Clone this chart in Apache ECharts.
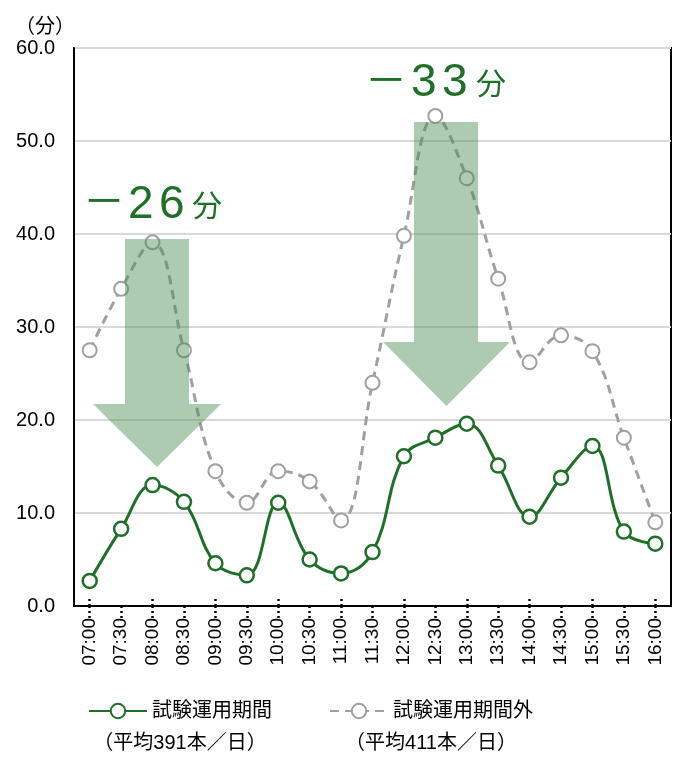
<!DOCTYPE html>
<html><head><meta charset="utf-8">
<script src="https://cdn.jsdelivr.net/npm/echarts@6/dist/echarts.min.js"></script>
<style>html,body{margin:0;padding:0;background:#fff}#c{width:677px;height:757px}</style>
</head><body><div id="c"></div>
<script>
const categories = ['07:00','07:30','08:00','08:30','09:00','09:30','10:00','10:30','11:00','11:30','12:00','12:30','13:00','13:30','14:00','14:30','15:00','15:30','16:00'];
const trialValues = [2.7,8.3,13.0,11.2,4.6,3.3,11.1,5.0,3.5,5.8,16.1,18.1,19.6,15.1,9.6,13.8,17.2,8.0,6.7];
const outsideValues = [27.5,34.1,39.1,27.5,14.5,11.1,14.5,13.4,9.2,24.0,39.8,52.7,46.0,35.2,26.2,29.1,27.4,18.1,9.0];
const seriesNames = ['試験運用期間','試験運用期間外'];
const seriesNotes = ['（平均391本／日）','（平均411本／日）'];
const yTicks = {min:0, max:60, interval:10};

const FONT = "'Liberation Sans', 'Noto Sans CJK JP', sans-serif";
const GREEN = '#1f6f28';
const GRAY = '#a0a0a0';
const ARROW = 'rgba(73,140,82,0.45)';

const chart = echarts.init(document.getElementById('c'), null, {renderer:'canvas'});

function arrow(x1,x2,hx1,hx2,top,headTop,tip){
  const cx=(hx1+hx2)/2;
  return {type:'polygon', z:100, silent:true,
    shape:{points:[[x1,top],[x2,top],[x2,headTop],[hx2,headTop],[cx,tip],[hx1,headTop],[x1,headTop]]},
    style:{fill:ARROW}};
}
function txt(x,y,t,size,align){
  return {type:'text', z:110, x:x, y:y, style:{text:t, fill:GREEN, font:size+'px '+FONT, textAlign:align||'left', textVerticalAlign:'middle'}};
}

chart.setOption({
  animation:false,
  grid:{left:74, top:48, right:6, bottom:151, show:true, borderColor:'#000', borderWidth:2, containLabel:false},
  legend:{
    data:seriesNames, left:83, top:696, itemWidth:58, itemHeight:18, itemGap:57,
    textStyle:{fontSize:20, color:'#000', fontFamily:FONT}
  },
  xAxis:[{
    type:'category', data:categories, boundaryGap:true,
    axisLine:{show:true, lineStyle:{color:'#000', width:2}},
    axisTick:{show:true, alignWithLabel:true, length:12, lineStyle:{color:'#000', width:2.5, type:[2,3]}},
    axisLabel:{rotate:90, margin:12, fontSize:19, color:'#000', fontFamily:FONT, interval:0},
    splitLine:{show:false}
  },{
    type:'category', data:categories, boundaryGap:true, position:'bottom',
    axisLine:{show:false},
    axisTick:{show:true, inside:true, alignWithLabel:true, length:8, lineStyle:{color:'#000', width:2.5, type:[2,3]}},
    axisLabel:{show:false}, splitLine:{show:false}
  }],
  yAxis:{
    type:'value', min:yTicks.min, max:yTicks.max, interval:yTicks.interval,
    axisLine:{show:true, lineStyle:{color:'#000', width:2}},
    axisTick:{show:false},
    axisLabel:{formatter:v=>v.toFixed(1), fontSize:20, color:'#000', fontFamily:FONT, margin:19},
    splitLine:{show:true, lineStyle:{color:'#d9d9d9', width:2}}
  },
  series:[{
    name:seriesNames[1], type:'line', data:outsideValues, smooth:0.4,
    symbol:'circle', symbolSize:14, showAllSymbol:true,
    lineStyle:{color:GRAY, width:3, type:[9,6]},
    itemStyle:{color:'#fff', borderColor:GRAY, borderWidth:2}
  },{
    name:seriesNames[0], type:'line', data:trialValues, smooth:0.4,
    symbol:'circle', symbolSize:14, showAllSymbol:true,
    lineStyle:{color:GREEN, width:3},
    itemStyle:{color:'#fff', borderColor:GREEN, borderWidth:2.5}
  }],
  graphic:[
    arrow(125,189,93,221,239,404,467),
    arrow(414,478,383,510,122,342,406),
    txt(83,204,'－',42), txt(128,205,'2',46), txt(159,205,'6',46), txt(192,208,'分',30),
    txt(365,83,'－',42), txt(411,83,'3',46), txt(442,83,'3',46), txt(476,86,'分',30),
    {type:'text', x:45, y:27, style:{text:'（分）', fill:'#000', font:'20px '+FONT, textAlign:'center', textVerticalAlign:'middle'}},
    {type:'text', x:180, y:743, style:{text:seriesNotes[0], fill:'#000', font:'20px '+FONT, textAlign:'center', textVerticalAlign:'middle'}},
    {type:'text', x:431, y:743, style:{text:seriesNotes[1], fill:'#000', font:'20px '+FONT, textAlign:'center', textVerticalAlign:'middle'}}
  ]
});
</script></body></html>
